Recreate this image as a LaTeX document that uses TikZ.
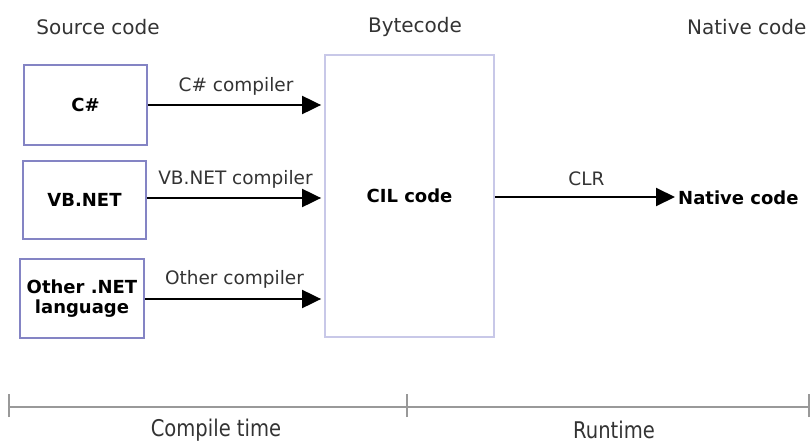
\documentclass[tikz,border=0pt]{standalone}
\usepackage{fontspec}
\setmainfont{DejaVu Sans}
\newfontfamily\condfont[FakeStretch=0.85]{DejaVu Sans}
\usetikzlibrary{arrows.meta}
\definecolor{boxblue}{HTML}{8484C4}
\definecolor{boxlight}{HTML}{C8C8E8}
\definecolor{txtgray}{HTML}{333333}
\definecolor{linegray}{HTML}{999999}
\tikzset{
  srcbox/.style={draw=boxblue, line width=1.8pt, inner sep=0pt, align=center,
    font=\fontsize{18}{20}\selectfont\bfseries, text=black},
  cilbox/.style={draw=boxlight, line width=1.8pt, inner sep=0pt,
    font=\fontsize{18}{20}\selectfont\bfseries, text=black},
  head/.style={font=\fontsize{20}{22}\selectfont, text=txtgray},
  lbl/.style={font=\fontsize{18.5}{20}\selectfont, text=txtgray, inner sep=0pt},
  flow/.style={line width=2pt, -{Triangle[length=19pt,width=18pt]}, shorten >=3pt},
  tl/.style={draw=linegray, line width=1.2pt},
  tlabel/.style={font=\condfont\fontsize{23}{25}\selectfont, text=txtgray, inner sep=0pt},
}
\begin{document}
\begin{tikzpicture}[x=1pt,y=-1pt]
\useasboundingbox (0,0) rectangle (810,444);
\node[head] (hsrc) at (98,27) {Source code};
\node[head] (hbyte) at (415,27) {Bytecode};
\node[head, anchor=east] (hnat) at (810,27) {Native code};

\node[srcbox, minimum width=123pt, minimum height=80pt] (cs) at (85.5,105) {C\#};
\node[srcbox, minimum width=123pt, minimum height=78pt] (vb) at (84.5,200) {VB.NET};
\node[srcbox, minimum width=124pt, minimum height=79pt] (oth) at (82,298.5) {Other .NET\\language};
\node[cilbox, minimum width=169pt, minimum height=282pt] (cil) at (409.5,196) {CIL code};
\node[font=\fontsize{18}{20}\selectfont\bfseries, anchor=west, inner sep=0pt] (nat) at (678,198) {Native code};

\draw[flow] (cs.east |- 0,105) -- node[lbl, yshift=19pt] {C\# compiler} (cil.west |- 0,105);
\draw[flow] (vb.east |- 0,198) -- node[lbl, yshift=19pt] {VB.NET compiler} (cil.west |- 0,198);
\draw[flow] (oth.east |- 0,299) -- node[lbl, yshift=20pt] {Other compiler} (cil.west |- 0,299);
\draw[flow] (cil.east |- 0,197) -- node[lbl, yshift=18pt] {CLR} (nat.west |- 0,197);

\coordinate (t0) at (9,407);
\coordinate (t1) at (407,407);
\coordinate (t2) at (809,407);
\draw[tl] (t0) -- (t2);
\draw[tl] ([yshift=-10pt]t0) -- ([yshift=13pt]t0);
\draw[tl] ([yshift=-10pt]t1) -- ([yshift=13pt]t1);
\draw[tl] ([yshift=-10pt]t2) -- ([yshift=13pt]t2);
\node[tlabel] (ct) at (216,430) {Compile time};
\node[tlabel] (rt) at (614,429.5) {Runtime};
\end{tikzpicture}
\end{document}
